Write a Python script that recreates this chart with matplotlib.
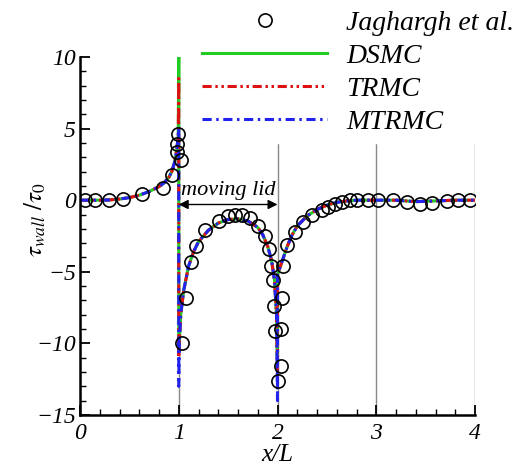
import numpy as np
import matplotlib.pyplot as plt

plt.rcParams['font.family'] = 'Liberation Serif'
plt.rcParams['mathtext.fontset'] = 'stix'

# --- reference data (Jaghargh et al.) ---
ref_x = [0.05, 0.15, 0.29, 0.44, 0.63, 0.84, 0.93, 1.02, 0.98, 0.98, 0.99,
         1.03, 1.07, 1.12, 1.17, 1.27, 1.41, 1.50, 1.57, 1.64, 1.72, 1.80,
         1.87, 1.91, 1.93, 1.95, 1.96, 1.97, 2.04, 2.04, 2.00, 2.05, 2.06,
         2.10, 2.18, 2.26, 2.35, 2.45, 2.51, 2.58, 2.65, 2.73, 2.81, 2.92,
         3.02, 3.17, 3.31, 3.44, 3.56, 3.72, 3.83, 3.95]
ref_y = [0.0, 0.0, 0.0, 0.05, 0.4, 0.85, 1.75, 2.8, 3.35, 3.9, 4.6,
         -10.0, -6.8, -4.3, -3.2, -2.1, -1.45, -1.1, -1.0, -1.05, -1.25, -1.8,
         -2.5, -3.4, -4.6, -5.6, -7.4, -9.1, -9.0, -11.6, -12.6, -6.8, -4.6,
         -3.1, -2.2, -1.5, -1.0, -0.7, -0.45, -0.3, -0.1, 0.0, 0.0, 0.0,
         0.0, 0.0, -0.1, -0.25, -0.2, -0.05, 0.0, 0.0]

# --- simulation curves ---
curve_x = [0.0, 0.1, 0.2, 0.3, 0.4, 0.5, 0.6, 0.7, 0.8,
           0.85, 0.9, 0.93, 0.96, 0.98, 0.995,
           1.0, 1.0,
           1.005, 1.02, 1.05, 1.1, 1.15, 1.2,
           1.3, 1.4, 1.5, 1.6, 1.7, 1.8,
           1.85, 1.9, 1.94, 1.97, 1.99,
           2.0, 2.0,
           2.02, 2.05, 2.1, 2.15, 2.2,
           2.3, 2.4, 2.5, 2.6, 2.7, 2.8,
           3.0, 3.2, 3.4, 3.6, 3.8, 4.0]
dsmc_y = [0.0, 0.0, 0.0, 0.02, 0.08, 0.18, 0.35, 0.6, 0.95,
          1.2, 1.6, 2.0, 2.7, 3.5, 4.5,
          10.0, -10.5,
          -10.0, -8.0, -6.3, -4.6, -3.6, -2.9,
          -2.1, -1.6, -1.35, -1.3, -1.45, -1.9,
          -2.4, -3.2, -4.2, -5.6, -8.0,
          -12.0, -5.2,
          -4.8, -4.2, -3.2, -2.4, -1.8,
          -1.1, -0.65, -0.35, -0.15, -0.05, 0.0,
          0.0, 0.0, -0.1, -0.05, 0.0, 0.0]
trmc_y = [0.0, 0.0, 0.0, 0.02, 0.08, 0.18, 0.35, 0.6, 0.95,
          1.2, 1.6, 2.0, 2.7, 3.5, 4.5,
          8.5, -11.0,
          -10.0, -8.0, -6.3, -4.6, -3.6, -2.9,
          -2.1, -1.6, -1.35, -1.3, -1.45, -1.9,
          -2.4, -3.2, -4.2, -5.6, -8.0,
          -12.5, -5.2,
          -4.8, -4.2, -3.2, -2.4, -1.8,
          -1.1, -0.65, -0.35, -0.15, -0.05, 0.0,
          0.0, 0.0, -0.1, -0.05, 0.0, 0.0]
mtrmc_y = [0.0, 0.0, 0.0, 0.02, 0.08, 0.18, 0.35, 0.6, 0.95,
           1.2, 1.6, 2.0, 2.7, 3.5, 4.5,
           5.0, -13.0,
           -10.0, -8.0, -6.3, -4.6, -3.6, -2.9,
           -2.1, -1.6, -1.35, -1.3, -1.45, -1.9,
           -2.4, -3.2, -4.2, -5.6, -8.0,
           -14.0, -5.2,
           -4.8, -4.2, -3.2, -2.4, -1.8,
           -1.1, -0.65, -0.35, -0.15, -0.05, 0.0,
           0.0, 0.0, -0.1, -0.05, 0.0, 0.0]

fig = plt.figure(figsize=(5.26, 4.66), dpi=100)
ax = fig.add_axes([80 / 526, 1 - 415 / 466, 395 / 526, 358 / 466])

l_dsmc, = ax.plot(curve_x, dsmc_y, color='#22cc22', lw=2.2, label='DSMC')
l_trmc, = ax.plot(curve_x, trmc_y, color='#dd1111', lw=2.2,
                  linestyle=(0, (3, 1.2, 0.8, 1.2, 0.8, 1.2)), label='TRMC')
l_mtrmc, = ax.plot(curve_x, mtrmc_y, color='#2222ee', lw=2.2,
                   linestyle=(0, (3, 1.5, 0.8, 1.5)), label='MTRMC')
l_ref, = ax.plot(ref_x, ref_y, 'o', mfc='none', mec='black', ms=9.5, mew=1.2,
                 label='Jaghargh et al.')

# moving lid arrow
ax.annotate('', xy=(1.0, -0.3), xytext=(2.0, -0.3),
            arrowprops=dict(arrowstyle='<|-|>', color='black', lw=1.0,
                            mutation_scale=14, shrinkA=0, shrinkB=0))
ax.text(1.5, 0.7, 'moving lid', fontsize=16, style='italic', ha='center', va='center')

ax.set_xlim(0, 4)
ax.set_ylim(-15, 10)
ax.set_xticks([0, 1, 2, 3, 4])
ax.set_yticks([-15, -10, -5, 0, 5, 10])
ax.set_xticks(np.arange(0, 4.01, 0.2), minor=True)
ax.set_yticks(np.arange(-15, 10.01, 1), minor=True)
ax.tick_params(which='major', direction='in', length=7, width=1.3, labelsize=17)
ax.tick_params(which='minor', direction='in', length=4, width=1.0)
for lab in ax.get_xticklabels() + ax.get_yticklabels():
    lab.set_fontstyle('italic')
ax.tick_params(axis='x', pad=6)
ax.tick_params(axis='y', pad=3)

ax.spines['top'].set_visible(False)
ax.spines['right'].set_visible(False)
ax.spines['left'].set_linewidth(1.8)
ax.spines['bottom'].set_linewidth(1.8)
ax.grid(axis='x', which='major', color='#888888', lw=1.0)
ax.set_axisbelow(True)

ax.set_xlabel('x/L', fontsize=18, style='italic', labelpad=0)
ax.set_ylabel(r'$\tau_{wall}\ /\tau_0$', fontsize=18)
ax.yaxis.set_label_coords(-0.08, 0.545)

leg = ax.legend(handles=[l_ref, l_dsmc, l_trmc, l_mtrmc], loc='upper left',
                bbox_to_anchor=(194 / 526, 1 - 2 / 466), bbox_transform=fig.transFigure,
                prop={'style': 'italic', 'size': 20},
                handlelength=4.5, handletextpad=0.68, labelspacing=0.27,
                borderpad=0.3, borderaxespad=0, frameon=True, fancybox=False,
                framealpha=1, facecolor='white', edgecolor='white')
leg.set_zorder(5)

fig.savefig('out.png', dpi=100)
